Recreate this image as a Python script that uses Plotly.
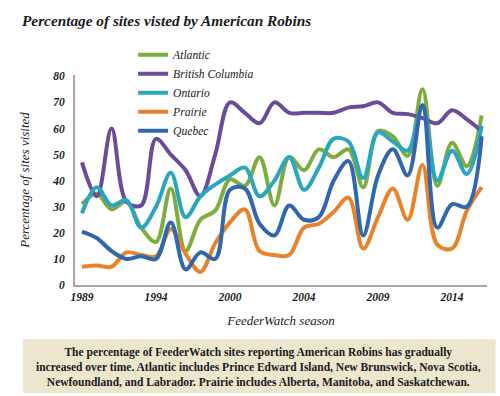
import plotly.graph_objects as go

seasons_idx = list(range(28))
tick_positions = [0, 5, 10, 15, 20, 25]
tick_labels = ["1989", "1994", "2000", "2004", "2009", "2014"]
y_ticks = [0, 10, 20, 30, 40, 50, 60, 70, 80]

atlantic = [31, 35, 29, 32, 22, 16.5, 37, 13, 25, 28.5, 40.5, 38, 49, 30.5, 49, 44, 52, 49, 52, 37.5, 59, 57, 49.5, 75, 38, 54.5, 45.5, 65]
british_columbia = [47, 34, 60, 32, 30.5, 56, 50, 44, 34, 50, 70, 66, 62, 70, 66, 66, 66, 66, 68, 68.5, 70, 66, 65.5, 64, 62, 67, 63.5, 59]
ontario = [27.5, 37.5, 30.5, 32.5, 22, 30, 43, 26, 34, 38.5, 42, 45, 34, 40, 49, 36.5, 45, 56, 55, 41, 58.5, 55, 51.5, 68, 40, 51.5, 42.5, 61]
prairie = [7, 7.5, 7, 12.5, 11.5, 11, 21.5, 12, 5, 16, 24, 29, 13, 11.5, 11.5, 22, 23.5, 28, 33.5, 14, 26, 37, 25, 46, 15.5, 14, 28.5, 37.5]
quebec = [20.5, 18, 13, 10, 11, 10, 24, 6, 12.5, 10, 36.5, 37, 23.5, 19, 30.5, 25, 26, 40, 47.5, 19, 42, 52, 42, 69, 22, 31, 30, 57]

series = [
    ("Atlantic", atlantic, "#7ead3f"),
    ("British Columbia", british_columbia, "#6b4c9a"),
    ("Ontario", ontario, "#2ba6bf"),
    ("Prairie", prairie, "#e8832b"),
    ("Quebec", quebec, "#3167ae"),
]

SERIF = "Liberation Serif, Times New Roman, serif"
INK = "#1a1a1a"

fig = go.Figure()
for name, vals, color in series:
    fig.add_trace(go.Scatter(
        x=seasons_idx, y=vals, name="<i>" + name + "</i>", mode="lines",
        line=dict(color=color, width=4, shape="spline", smoothing=1),
    ))

caption = ("<b>The percentage of FeederWatch sites reporting American Robins has gradually<br>"
           "increased over time. Atlantic includes Prince Edward Island, New Brunswick, Nova Scotia,<br>"
           "Newfoundland, and Labrador. Prairie includes Alberta, Manitoba, and Saskatchewan.</b>")

fig.update_layout(
    width=500, height=396,
    margin=dict(l=75, r=13, t=75, b=111),
    paper_bgcolor="white", plot_bgcolor="white",
    showlegend=True,
    title=dict(text="<b><i>Percentage of sites visted by American Robins</i></b>",
               x=0.044, xanchor="left", y=0.948, yanchor="middle",
               font=dict(family=SERIF, size=15.3, color=INK)),
    legend=dict(x=0.141, xanchor="left", y=1.166, yanchor="top",
                bgcolor="rgba(0,0,0,0)", tracegroupgap=0,
                font=dict(family=SERIF, size=11.6, color=INK)),
    xaxis=dict(range=[-0.47, 27.36], tickvals=tick_positions,
               ticktext=["<b><i>" + t + "</i></b>" for t in tick_labels],
               showgrid=False, zeroline=False, showline=True, linecolor="#a6a6a6", linewidth=2,
               ticks="", tickfont=dict(family=SERIF, size=11.5, color=INK),
               title=dict(text="<i>FeederWatch season</i>", standoff=14,
                          font=dict(family=SERIF, size=13, color=INK))),
    yaxis=dict(range=[0, 80.5], tickvals=y_ticks,
               ticktext=["<b><i>" + str(v) + "</i></b>" for v in y_ticks],
               showgrid=False, zeroline=False, showline=True, linecolor="#a6a6a6", linewidth=2,
               ticks="", ticklabelstandoff=6,
               tickfont=dict(family=SERIF, size=11.5, color=INK),
               title=dict(text="<i>Percentage of sites visited</i>", standoff=20,
                          font=dict(family=SERIF, size=13, color=INK))),
    shapes=[dict(type="rect", xref="paper", yref="paper",
                 x0=-0.126, x1=1.021, y0=-0.258, y1=-0.514,
                 fillcolor="#ede6cf", line=dict(width=0), layer="below")],
    annotations=[dict(text=caption, xref="paper", yref="paper", x=0.445, y=-0.39,
                      xanchor="center", yanchor="middle", showarrow=False, align="center",
                      font=dict(family=SERIF, size=11.5, color=INK))],
)

fig.write_html("out.html", config={"displayModeBar": False},
               post_script="document.body.style.margin='0';")
